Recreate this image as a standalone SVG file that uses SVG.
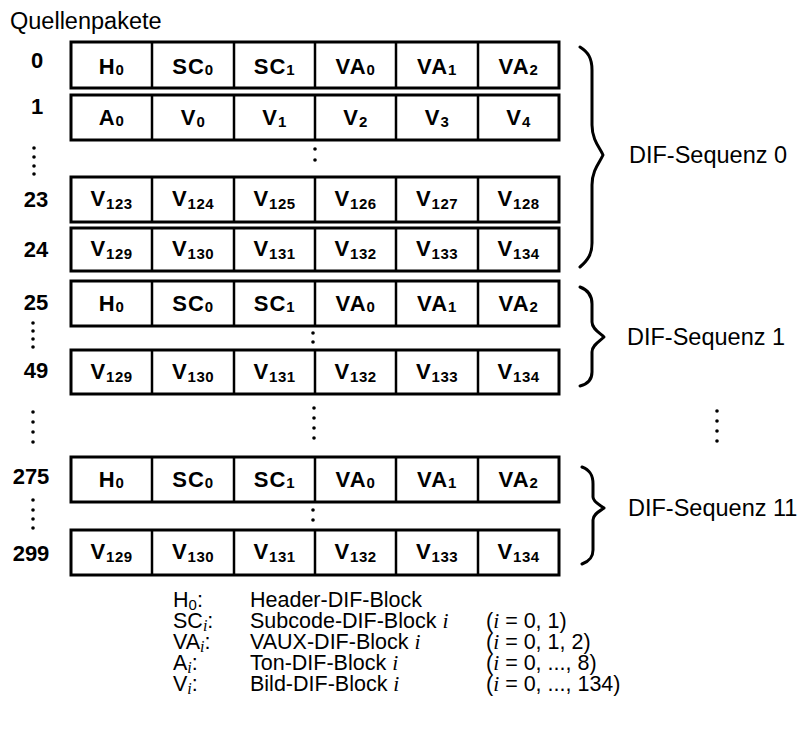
<svg xmlns="http://www.w3.org/2000/svg" width="806" height="737" viewBox="0 0 806 737">
<style>
.box{fill:#fff;stroke:#000;stroke-width:3}
.div{stroke:#000;stroke-width:2.5}
.cell{font-family:"Liberation Sans",Arial,sans-serif;font-weight:bold;font-size:22px;text-anchor:middle;fill:#000;letter-spacing:1px}
.sub{font-size:15px;letter-spacing:0.5px}
.num{font-family:"Liberation Sans",Arial,sans-serif;font-weight:bold;font-size:22px;text-anchor:middle;fill:#000}
.lbl{font-family:"Liberation Sans",Arial,sans-serif;font-size:23.5px;fill:#000}
.leg{font-family:"Liberation Sans",Arial,sans-serif;font-size:21.5px;fill:#000}
.it{font-family:"Liberation Serif","Times New Roman",serif;font-style:italic}
.brace{fill:none;stroke:#000;stroke-width:3;stroke-linecap:round;stroke-linejoin:round}
.dot{fill:#000}
</style>
<defs>
<g id="cols">
<line class="div" x1="152" y1="0" x2="152" y2="45"/>
<line class="div" x1="234" y1="0" x2="234" y2="45"/>
<line class="div" x1="315" y1="0" x2="315" y2="45"/>
<line class="div" x1="396" y1="0" x2="396" y2="45"/>
<line class="div" x1="478" y1="0" x2="478" y2="45"/>
</g>
<circle id="d" r="1.8"/>
</defs>

<text class="lbl" x="10" y="29">Quellenpakete</text>

<!-- row 0 -->
<g id="row0">
<rect class="box" x="71" y="42" width="488" height="46"/>
<use href="#cols" y="42"/>
<text class="num" x="37" y="68">0</text>
<text class="cell" x="111.5" y="74">H<tspan class="sub" dy="1">0</tspan></text>
<text class="cell" x="193" y="74">SC<tspan class="sub" dy="1">0</tspan></text>
<text class="cell" x="274.5" y="74">SC<tspan class="sub" dy="1">1</tspan></text>
<text class="cell" x="355.5" y="74">VA<tspan class="sub" dy="1">0</tspan></text>
<text class="cell" x="437" y="74">VA<tspan class="sub" dy="1">1</tspan></text>
<text class="cell" x="518.5" y="74">VA<tspan class="sub" dy="1">2</tspan></text>
</g>

<!-- row 1 -->
<g id="row1">
<rect class="box" x="71" y="95" width="488" height="45"/>
<use href="#cols" y="95"/>
<text class="num" x="37" y="114">1</text>
<text class="cell" x="111.5" y="125">A<tspan class="sub" dy="1">0</tspan></text>
<text class="cell" x="193" y="125">V<tspan class="sub" dy="2">0</tspan></text>
<text class="cell" x="274.5" y="125">V<tspan class="sub" dy="2">1</tspan></text>
<text class="cell" x="355.5" y="125">V<tspan class="sub" dy="2">2</tspan></text>
<text class="cell" x="437" y="125">V<tspan class="sub" dy="2">3</tspan></text>
<text class="cell" x="518.5" y="125">V<tspan class="sub" dy="2">4</tspan></text>
</g>

<!-- row 23 -->
<g id="row23">
<rect class="box" x="71" y="177" width="488" height="45"/>
<use href="#cols" y="177"/>
<text class="num" x="36" y="207">23</text>
<text class="cell" x="111.5" y="206">V<tspan class="sub" dy="3">123</tspan></text>
<text class="cell" x="193" y="206">V<tspan class="sub" dy="3">124</tspan></text>
<text class="cell" x="274.5" y="206">V<tspan class="sub" dy="3">125</tspan></text>
<text class="cell" x="355.5" y="206">V<tspan class="sub" dy="3">126</tspan></text>
<text class="cell" x="437" y="206">V<tspan class="sub" dy="3">127</tspan></text>
<text class="cell" x="518.5" y="206">V<tspan class="sub" dy="3">128</tspan></text>
</g>

<!-- row 24 -->
<g id="row24">
<rect class="box" x="71" y="228" width="488" height="43"/>
<use href="#cols" y="227"/>
<text class="num" x="36" y="257">24</text>
<text class="cell" x="111.5" y="256">V<tspan class="sub" dy="3">129</tspan></text>
<text class="cell" x="193" y="256">V<tspan class="sub" dy="3">130</tspan></text>
<text class="cell" x="274.5" y="256">V<tspan class="sub" dy="3">131</tspan></text>
<text class="cell" x="355.5" y="256">V<tspan class="sub" dy="3">132</tspan></text>
<text class="cell" x="437" y="256">V<tspan class="sub" dy="3">133</tspan></text>
<text class="cell" x="518.5" y="256">V<tspan class="sub" dy="3">134</tspan></text>
</g>

<!-- row 25 -->
<g id="row25">
<rect class="box" x="71" y="281" width="488" height="45"/>
<use href="#cols" y="281"/>
<text class="num" x="36" y="310">25</text>
<text class="cell" x="111.5" y="311">H<tspan class="sub" dy="1">0</tspan></text>
<text class="cell" x="193" y="311">SC<tspan class="sub" dy="1">0</tspan></text>
<text class="cell" x="274.5" y="311">SC<tspan class="sub" dy="1">1</tspan></text>
<text class="cell" x="355.5" y="311">VA<tspan class="sub" dy="1">0</tspan></text>
<text class="cell" x="437" y="311">VA<tspan class="sub" dy="1">1</tspan></text>
<text class="cell" x="518.5" y="311">VA<tspan class="sub" dy="1">2</tspan></text>
</g>

<!-- row 49 -->
<g id="row49">
<rect class="box" x="71" y="350" width="488" height="44"/>
<use href="#cols" y="350"/>
<text class="num" x="36" y="378">49</text>
<text class="cell" x="111.5" y="379">V<tspan class="sub" dy="3">129</tspan></text>
<text class="cell" x="193" y="379">V<tspan class="sub" dy="3">130</tspan></text>
<text class="cell" x="274.5" y="379">V<tspan class="sub" dy="3">131</tspan></text>
<text class="cell" x="355.5" y="379">V<tspan class="sub" dy="3">132</tspan></text>
<text class="cell" x="437" y="379">V<tspan class="sub" dy="3">133</tspan></text>
<text class="cell" x="518.5" y="379">V<tspan class="sub" dy="3">134</tspan></text>
</g>

<!-- row 275 -->
<g id="row275">
<rect class="box" x="71" y="457" width="488" height="45"/>
<use href="#cols" y="457"/>
<text class="num" x="31" y="484">275</text>
<text class="cell" x="111.5" y="487">H<tspan class="sub" dy="1">0</tspan></text>
<text class="cell" x="193" y="487">SC<tspan class="sub" dy="1">0</tspan></text>
<text class="cell" x="274.5" y="487">SC<tspan class="sub" dy="1">1</tspan></text>
<text class="cell" x="355.5" y="487">VA<tspan class="sub" dy="1">0</tspan></text>
<text class="cell" x="437" y="487">VA<tspan class="sub" dy="1">1</tspan></text>
<text class="cell" x="518.5" y="487">VA<tspan class="sub" dy="1">2</tspan></text>
</g>

<!-- row 299 -->
<g id="row299">
<rect class="box" x="71" y="530" width="488" height="45"/>
<use href="#cols" y="530"/>
<text class="num" x="31" y="561">299</text>
<text class="cell" x="111.5" y="559">V<tspan class="sub" dy="3">129</tspan></text>
<text class="cell" x="193" y="559">V<tspan class="sub" dy="3">130</tspan></text>
<text class="cell" x="274.5" y="559">V<tspan class="sub" dy="3">131</tspan></text>
<text class="cell" x="355.5" y="559">V<tspan class="sub" dy="3">132</tspan></text>
<text class="cell" x="437" y="559">V<tspan class="sub" dy="3">133</tspan></text>
<text class="cell" x="518.5" y="559">V<tspan class="sub" dy="3">134</tspan></text>
</g>

<!-- ellipsis dots -->
<g id="dots" class="dot">
<use href="#d" x="34" y="148"/><use href="#d" x="34" y="157"/><use href="#d" x="34" y="166"/><use href="#d" x="34" y="174"/>
<use href="#d" x="315" y="149"/><use href="#d" x="315" y="160"/>
<use href="#d" x="33" y="323"/><use href="#d" x="33" y="331"/><use href="#d" x="33" y="339"/><use href="#d" x="33" y="347"/>
<use href="#d" x="313" y="333"/><use href="#d" x="313" y="342"/>
<use href="#d" x="33" y="412"/><use href="#d" x="33" y="422"/><use href="#d" x="33" y="432"/><use href="#d" x="33" y="442"/>
<use href="#d" x="314" y="408"/><use href="#d" x="314" y="418"/><use href="#d" x="314" y="428"/><use href="#d" x="314" y="438"/>
<use href="#d" x="717" y="411"/><use href="#d" x="717" y="421"/><use href="#d" x="717" y="431"/><use href="#d" x="717" y="441"/>
<use href="#d" x="33" y="500"/><use href="#d" x="33" y="510"/><use href="#d" x="33" y="519"/><use href="#d" x="33" y="528"/>
<use href="#d" x="313" y="510"/><use href="#d" x="313" y="520"/>
</g>

<!-- braces -->
<g id="braces">
<path class="brace" d="M580,47 C588,52 592,58 592,70 L592,125 C592,140 600,148 603,155 C600,162 592,170 592,185 L592,243 C592,254 588,260 580,267"/>
<path class="brace" d="M580,287 C588,290 592,295 592,304 L592,322 C592,329 600,333 604,337 C600,341 592,345 592,352 L592,372 C592,380 588,384 580,386"/>
<path class="brace" d="M582,467 C590,470 593,475 593,484 L593,497 C593,502 600,505 604,508 C600,511 593,514 593,520 L593,550 C593,557 590,561 582,564"/>
</g>

<g id="seq0"><text class="lbl" x="629" y="163">DIF-Sequenz 0</text></g>
<g id="seq1"><text class="lbl" x="627" y="345">DIF-Sequenz 1</text></g>
<g id="seq11"><text class="lbl" x="628" y="516">DIF-Sequenz 11</text></g>

<!-- legend -->
<g id="legend" class="leg">
<text x="173" y="607">H<tspan font-size="15" dy="3">0</tspan><tspan dy="-3">:</tspan></text>
<text x="250" y="607">Header-DIF-Block</text>
<text x="173" y="628">SC<tspan class="it" font-size="16" dy="3">i</tspan><tspan dy="-3">:</tspan></text>
<text x="250" y="628">Subcode-DIF-Block <tspan class="it">i</tspan></text>
<text x="486" y="628">(<tspan class="it">i</tspan> = 0, 1)</text>
<text x="173" y="649">VA<tspan class="it" font-size="16" dy="3">i</tspan><tspan dy="-3">:</tspan></text>
<text x="250" y="649">VAUX-DIF-Block <tspan class="it">i</tspan></text>
<text x="486" y="649">(<tspan class="it">i</tspan> = 0, 1, 2)</text>
<text x="173" y="670">A<tspan class="it" font-size="16" dy="3">i</tspan><tspan dy="-3">:</tspan></text>
<text x="250" y="670">Ton-DIF-Block <tspan class="it">i</tspan></text>
<text x="486" y="670">(<tspan class="it">i</tspan> = 0, ..., 8)</text>
<text x="173" y="691">V<tspan class="it" font-size="16" dy="3">i</tspan><tspan dy="-3">:</tspan></text>
<text x="250" y="691">Bild-DIF-Block <tspan class="it">i</tspan></text>
<text x="486" y="691">(<tspan class="it">i</tspan> = 0, ..., 134)</text>
</g>
</svg>
